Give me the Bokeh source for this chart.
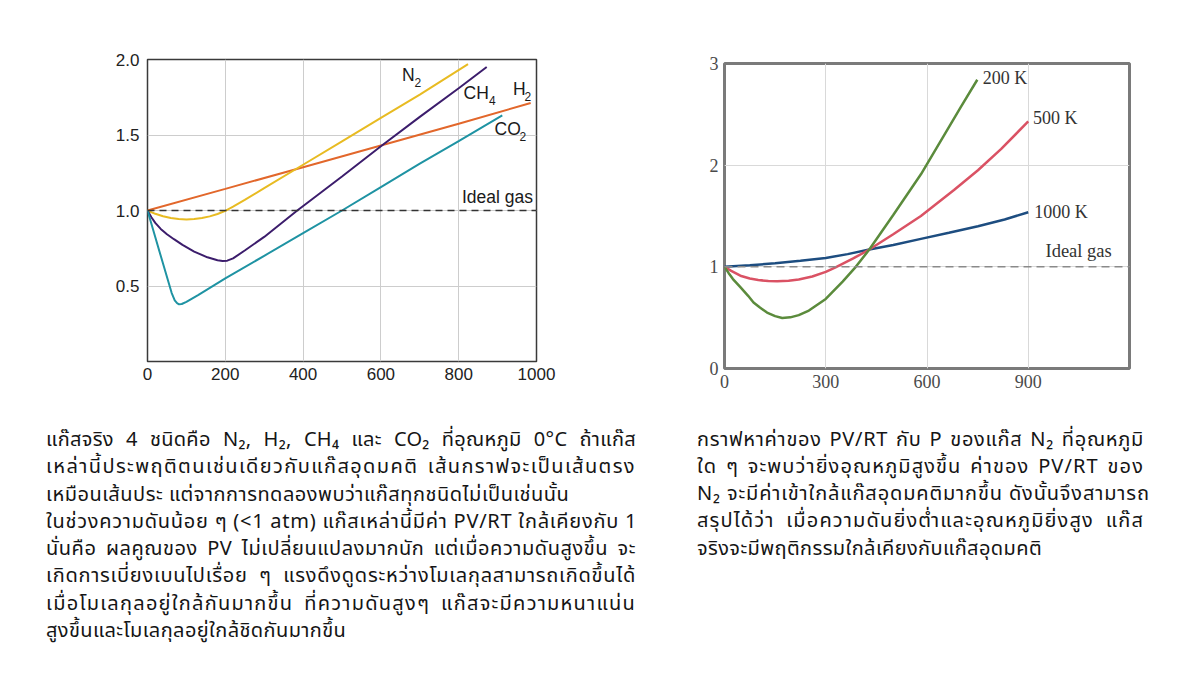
from bokeh.plotting import figure
from bokeh.models import Range1d, FixedTicker, Label, Arrow, Div, Spacer, Span
from bokeh.layouts import row, column
from bokeh.embed import file_html
from bokeh.resources import INLINE

# ---------------- Left chart: real gases at 0 °C ----------------
x_ticks_left = [0, 200, 400, 600, 800, 1000]
y_ticks_left = [0.5, 1.0, 1.5, 2.0]
y_tick_labels_left = ["0.5", "1.0", "1.5", "2.0"]

p_n2 = [0, 20, 40, 60, 80, 100, 120, 140, 160, 180, 200, 220, 250, 300, 400, 500, 600, 700, 824]
z_n2 = [1.0, 0.978, 0.962, 0.950, 0.943, 0.941, 0.943, 0.950, 0.961, 0.977, 0.998, 1.025, 1.07, 1.148, 1.303, 1.458, 1.613, 1.768, 1.97]

p_h2 = [0, 200, 400, 600, 800, 985]
z_h2 = [1.0, 1.143, 1.287, 1.43, 1.575, 1.712]

p_ch4 = [0, 10, 20, 34, 50, 68, 90, 120, 154, 180, 193, 205, 220, 250, 300, 385, 500, 600, 700, 800, 872]
z_ch4 = [1.0, 0.955, 0.918, 0.878, 0.843, 0.81, 0.772, 0.728, 0.69, 0.671, 0.666, 0.668, 0.683, 0.735, 0.825, 1.0, 1.225, 1.425, 1.62, 1.81, 1.95]

p_co2 = [0, 34, 62, 70, 76, 81, 88, 100, 130, 200, 300, 400, 500, 600, 700, 800, 912]
z_co2 = [1.0, 0.70, 0.455, 0.405, 0.386, 0.379, 0.381, 0.395, 0.44, 0.55, 0.70, 0.85, 1.0, 1.155, 1.31, 1.46, 1.63]

ideal_value = 1.0

# ---------------- Right chart: N2 at several temperatures ----------------
x_ticks_right = [0, 300, 600, 900]
y_ticks_right = [0, 1, 2, 3]

p_200 = [0, 12, 25, 47, 70, 86, 105, 126, 150, 171, 195, 220, 250, 300, 350, 389, 429, 500, 582, 650, 700, 749]
z_200 = [1.0, 0.94, 0.88, 0.80, 0.715, 0.65, 0.60, 0.55, 0.515, 0.497, 0.503, 0.525, 0.57, 0.684, 0.855, 1.0, 1.17, 1.51, 1.91, 2.29, 2.57, 2.84]

p_500 = [0, 20, 47, 75, 100, 130, 156, 190, 220, 260, 300, 329, 380, 429, 500, 582, 680, 751, 820, 900]
z_500 = [1.0, 0.96, 0.913, 0.885, 0.87, 0.86, 0.857, 0.862, 0.875, 0.905, 0.95, 0.995, 1.08, 1.17, 1.32, 1.50, 1.755, 1.95, 2.16, 2.43]

p_1000 = [0, 75, 150, 225, 300, 365, 429, 500, 582, 665, 751, 830, 900]
z_1000 = [1.0, 1.015, 1.035, 1.06, 1.087, 1.125, 1.17, 1.215, 1.275, 1.335, 1.40, 1.465, 1.537]

# ---------------- Texts ----------------
left_lines = [
    ("แก๊สจริง 4 ชนิดคือ N₂, H₂, CH₄ และ CO₂ ที่อุณหภูมิ 0°C ถ้าแก๊ส", True),
    ("เหล่านี้ประพฤติตนเช่นเดียวกับแก๊สอุดมคติ เส้นกราฟจะเป็นเส้นตรง", True),
    ("เหมือนเส้นประ แต่จากการทดลองพบว่าแก๊สทุกชนิดไม่เป็นเช่นนั้น", False),
    ("ในช่วงความดันน้อย ๆ (&lt;1 atm) แก๊สเหล่านี้มีค่า PV/RT ใกล้เคียงกับ 1", True),
    ("นั่นคือ ผลคูณของ PV ไม่เปลี่ยนแปลงมากนัก แต่เมื่อความดันสูงขึ้น จะ", True),
    ("เกิดการเบี่ยงเบนไปเรื่อย ๆ แรงดึงดูดระหว่างโมเลกุลสามารถเกิดขึ้นได้", True),
    ("เมื่อโมเลกุลอยู่ใกล้กันมากขึ้น ที่ความดันสูงๆ แก๊สจะมีความหนาแน่น", True),
    ("สูงขึ้นและโมเลกุลอยู่ใกล้ชิดกันมากขึ้น", False),
]
right_lines = [
    ("กราฟหาค่าของ PV/RT กับ P ของแก๊ส N₂ ที่อุณหภูมิ", True),
    ("ใด ๆ จะพบว่ายิ่งอุณหภูมิสูงขึ้น ค่าของ PV/RT ของ", True),
    ("N₂ จะมีค่าเข้าใกล้แก๊สอุดมคติมากขึ้น ดังนั้นจึงสามารถ", True),
    ("สรุปได้ว่า เมื่อความดันยิ่งต่ำและอุณหภูมิยิ่งสูง แก๊ส", True),
    ("จริงจะมีพฤติกรรมใกล้เคียงกับแก๊สอุดมคติ", False),
]

SANS = "Liberation Sans"
SERIF = "Liberation Serif"


def add_label(p, x, y, text, font, size, color, style="normal", align="left", baseline="middle"):
    p.add_layout(Label(x=x, y=y, text=text, text_font=font, text_font_size=f"{size}px",
                       text_font_style=style, text_align=align, text_baseline=baseline,
                       text_color=color))


def style_axes(p, font, size, color, xstand, ystand):
    for ax in (p.xaxis[0], p.yaxis[0]):
        ax.axis_line_color = None
        ax.major_tick_line_color = None
        ax.minor_tick_line_color = None
        ax.major_tick_out = 0
        ax.major_tick_in = 0
        ax.minor_tick_out = 0
        ax.minor_tick_in = 0
        ax.major_label_text_font = font
        ax.major_label_text_font_size = size
        ax.major_label_text_color = color
    p.xaxis.major_label_standoff = xstand
    p.yaxis.major_label_standoff = ystand


# ================= Left figure =================
p1 = figure(width=652, height=407, x_range=Range1d(0, 1000), y_range=Range1d(0, 2.0),
            output_backend="svg", toolbar_location=None,
            min_border_left=139, min_border_right=124, min_border_top=51, min_border_bottom=54)
p1.margin = 0
p1.outline_line_color = "#3a3a3a"
p1.outline_line_width = 1.5
p1.xaxis.ticker = FixedTicker(ticks=x_ticks_left)
p1.yaxis.ticker = FixedTicker(ticks=y_ticks_left)
p1.yaxis.major_label_overrides = {t: s for t, s in zip(y_ticks_left, y_tick_labels_left)}
style_axes(p1, SANS, "17px", "#222222", 6, 8)
p1.xgrid.grid_line_color = "#cdcdcd"
p1.ygrid.grid_line_color = "#cdcdcd"
p1.add_layout(Span(location=ideal_value, dimension="width", line_color="#333333",
                   line_width=1.4, line_dash="7 5"))

p1.line(p_h2, z_h2, line_color="#e2672b", line_width=2)
p1.line(p_n2, z_n2, line_color="#e8bb22", line_width=2)
p1.line(p_ch4, z_ch4, line_color="#3c1d6c", line_width=2)
p1.line(p_co2, z_co2, line_color="#1f93a3", line_width=2)


def L(px, py):
    return (px - 147) / 0.389, (361 - py) / 151.0


c = "#1a1a1a"
add_label(p1, *L(401.5, 74), "N", SANS, 17.5, c)
add_label(p1, *L(414, 82), "2", SANS, 12, c)
add_label(p1, *L(463, 92), "CH", SANS, 17.5, c)
add_label(p1, *L(488.5, 100), "4", SANS, 12, c)
add_label(p1, *L(512.5, 88), "H", SANS, 17.5, c)
add_label(p1, *L(524, 96), "2", SANS, 12, c)
add_label(p1, *L(494, 128), "CO", SANS, 17.5, c)
add_label(p1, *L(519, 136), "2", SANS, 12, c)
add_label(p1, *L(461.5, 196.5), "Ideal gas", SANS, 17.5, c)
# axis titles
add_label(p1, *L(96, 202), "PV", SANS, 17, c, style="italic", align="center")
add_label(p1, *L(96, 219.5), "RT", SANS, 17, c, style="italic", align="center")
bx0, by = L(83, 210.5)
bx1, _ = L(110, 210.5)
p1.add_layout(Arrow(end=None, x_start=bx0, y_start=by, x_end=bx1, y_end=by,
                    line_color=c, line_width=1.6))
add_label(p1, *L(312, 398), "P", SANS, 17, c, style="italic")
add_label(p1, *L(328, 398), "(atm)", SANS, 17, c)

# ================= Right figure =================
p2 = figure(width=478, height=378, x_range=Range1d(0, 1200), y_range=Range1d(0, 3),
            output_backend="svg", toolbar_location=None,
            min_border_left=64, min_border_right=9, min_border_top=23, min_border_bottom=50)
p2.margin = 0
p2.outline_line_color = "#7a7a7a"
p2.outline_line_width = 3
p2.xaxis.ticker = FixedTicker(ticks=x_ticks_right)
p2.yaxis.ticker = FixedTicker(ticks=y_ticks_right)
style_axes(p2, SERIF, "18px", "#4a4a4a", 6, 6)
p2.xgrid.grid_line_color = "#d9d9d9"
p2.ygrid.grid_line_color = "#d9d9d9"
p2.add_layout(Span(location=ideal_value, dimension="width", line_color="#8a8a8a",
                   line_width=1.5, line_dash="8 5"))

p2.line(p_1000, z_1000, line_color="#1d4d80", line_width=2.5)
p2.line(p_500, z_500, line_color="#da5264", line_width=2.5)
p2.line(p_200, z_200, line_color="#5b8b3c", line_width=2.5)


def R(px, py):
    return (px - 724) / 0.3375, (368 - py) / 101.67


c2 = "#333333"
add_label(p2, p_200[-1] + 16, z_200[-1] + 0.02, "200 K", SERIF, 18, c2)
add_label(p2, p_500[-1] + 14, z_500[-1] + 0.03, "500 K", SERIF, 18, c2)
add_label(p2, p_1000[-1] + 18, z_1000[-1] + 0.0, "1000 K", SERIF, 18, c2)
add_label(p2, *R(1045, 250.5), "Ideal gas", SERIF, 18.5, c2)
add_label(p2, *R(683, 205), "PV", SERIF, 19, c2, style="italic", align="center")
add_label(p2, *R(683, 229.5), "RT", SERIF, 19, c2, style="italic", align="center")
rx0, ry = R(670, 217)
rx1, _ = R(697, 217)
p2.add_layout(Arrow(end=None, x_start=rx0, y_start=ry, x_end=rx1, y_end=ry,
                    line_color=c2, line_width=1.3))
add_label(p2, *R(898, 406.5), "P", SERIF, 19, c2, style="italic")
add_label(p2, *R(914, 406.5), "(atm)", SERIF, 19, c2)


# ================= Paragraphs =================
left_spacing = [0.3, 1.4, 0.5, 0.75, 0.55, 0.75, 1.25, 0.4]
right_spacing = [0.7, 1.1, 0.85, 1.15, 0.4]


def para(lines, spacing, width, size, lh, pad):
    out = []
    for (txt, just), ls in zip(lines, spacing):
        al = "justify" if just else "left"
        out.append(f'<div style="white-space:nowrap;text-align:{al};text-align-last:{al};'
                   f'letter-spacing:{ls}px;height:{lh}px;">{txt}</div>')
    return (f'<div style="font-family:\'Noto Sans Thai\',\'Noto Sans\',sans-serif;font-size:{size}px;'
            f'line-height:{lh}px;color:#151515;width:{width}px;padding-top:{pad}px;">' + "".join(out) + "</div>")


d1 = Div(text=para(left_lines, left_spacing, 590, 20, 27.3, 9), width=600, height=235, margin=0)
d2 = Div(text=para(right_lines, right_spacing, 447, 20, 27.3, 8.5), width=455, height=235, margin=0)

content = column(
    row(p1, column(Spacer(width=478, height=32, margin=0), p2, margin=0), margin=0),
    row(Spacer(width=38, height=10, margin=0), d1, Spacer(width=51, height=10, margin=0), d2, margin=0),
    margin=0,
)
layout = column(Spacer(width=10, height=8, margin=0),
                row(Spacer(width=8, height=10, margin=0), content, margin=0), margin=0)

with open("out.html", "w") as f:
    f.write(file_html(layout, INLINE, title="PV/RT"))
